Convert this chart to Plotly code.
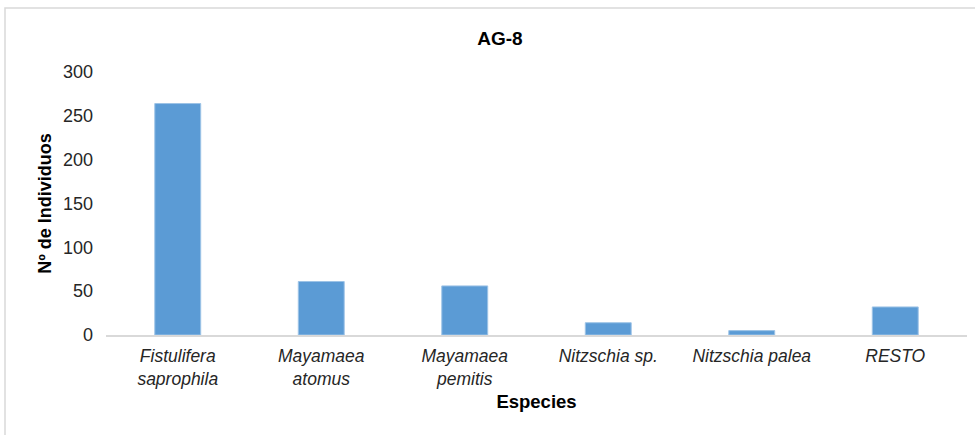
import plotly.graph_objects as go

categories = ["Fistulifera<br>saprophila", "Mayamaea<br>atomus", "Mayamaea<br>pemitis",
              "Nitzschia sp.", "Nitzschia palea", "RESTO"]
values = [264, 61, 56, 14, 5, 32]
y_ticks = [0, 50, 100, 150, 200, 250, 300]

fig = go.Figure()
fig.add_trace(go.Bar(
    x=categories, y=values,
    marker=dict(color="#5B9BD5", line=dict(color="#9DC3E6", width=1)),
    width=0.32,
))

L, R, T, B = 106, 8, 72, 100
W, H = 975, 435
pw = W - L - R
ph = H - T - B

fig.update_layout(
    width=W, height=H,
    margin=dict(l=L, r=R, t=T, b=B, autoexpand=False),
    paper_bgcolor="white", plot_bgcolor="white",
    showlegend=False,
    font=dict(family="Liberation Sans, Arial", color="#595959", size=17),
    title=dict(text="<b>AG-8</b>", x=500 / W, xanchor="center", y=1 - 38 / H, yanchor="middle",
               font=dict(size=19, color="black", family="Liberation Sans, Arial")),
    xaxis=dict(
        showgrid=False, showline=True, linecolor="#d9d9d9", linewidth=1.5,
        tickfont=dict(size=17.5, color="#262626", style="italic"),
        ticks="", ticklabelstandoff=4,
        title=dict(text="<b>Especies</b>", font=dict(size=18.5, color="black"), standoff=8),
    ),
    yaxis=dict(
        range=[0, 300], tickvals=y_ticks, showgrid=False, showline=False, zeroline=False,
        tickfont=dict(size=18, color="#262626"), ticks="", ticklabelstandoff=12,
        title=dict(text="<b>Nº de Individuos</b>", font=dict(size=18, color="black"), standoff=6),
    ),
    shapes=[dict(type="rect", xref="paper", yref="paper",
                 x0=(5 - L) / pw, x1=(990 - L) / pw,
                 y0=(H - B - 460) / ph, y1=(H - B - 8) / ph,
                 line=dict(color="#d9d9d9", width=1.5), fillcolor="rgba(0,0,0,0)", layer="below")],
)

fig.write_html("out.html", config={"displayModeBar": False},
               post_script="document.body.style.margin='0';document.body.style.padding='0';")
